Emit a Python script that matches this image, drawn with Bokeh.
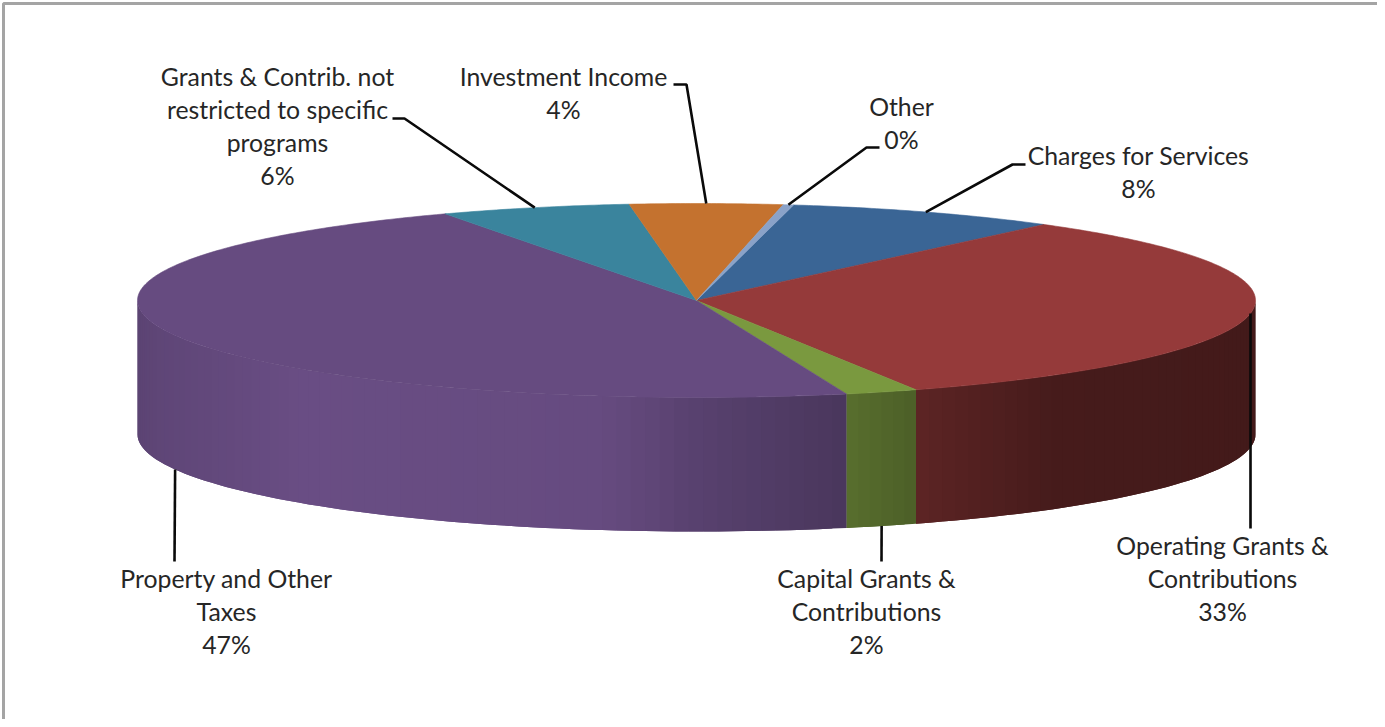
import numpy as np
from bokeh.plotting import figure
from bokeh.models import Range1d
from bokeh.core.properties import value
from bokeh.embed import file_html
from bokeh.resources import INLINE

# ---- data (clockwise from the first slice)
categories = ["Charges for Services", "Operating Grants & Contributions",
              "Capital Grants & Contributions", "Property and Other Taxes",
              "Grants & Contrib. not restricted to specific programs",
              "Investment Income", "Other"]
shares = [7.9, 32.9, 2.1, 46.9, 5.5, 4.4, 0.3]
label_lines = [["Charges for Services"],
               ["Operating Grants &", "Contributions"],
               ["Capital Grants &", "Contributions"],
               ["Property and Other", "Taxes"],
               ["Grants & Contrib. not", "restricted to specific", "programs"],
               ["Investment Income"],
               ["Other"]]
top_colors = ["#3a6595", "#953a3a", "#7a993f", "#664b80", "#3a849d", "#c4722f", "#8aa2c8"]

# ---- layout (pixels)
W, H = 1377, 719
CX, CY, RX, RY, DEPTH = 696.0, 300.0, 559.0, 97.0, 134.0
START = 10.0
FONT = "Lato"
FONT_PX = 24.8
LINE = 33.0
label_center = [1138, 1222, 866, 226, 277, 563, 901]
label_first_y = [155, 545, 578, 578, 76, 76, 106]
# where the leader leaves the rim: 0 top rim, 1 bottom rim; then its elbows
leader_depth = [0, 0, 1, 1, 0, 0, 0]
leader_elbows = [[(1012, 164), (1025, 164)], [(1250, 528)], [(881, 561)], [(174, 561)],
                 [(404, 118), (392, 118)], [(686, 84), (673, 84)], [(866, 147), (879, 147)]]
shade_x = [137, 160, 300, 600, 700, 846, 917, 1050, 1255]
shade_f = [0.90, 0.93, 1.03, 1.00, 0.86, 0.72, 0.62, 0.47, 0.45]


def hex_rgb(h):
    return np.array([int(h[i:i + 2], 16) for i in (1, 3, 5)], dtype=float)


def to_hex(c):
    return "#%02x%02x%02x" % tuple(int(round(min(255, v))) for v in c)


def rim(deg):
    t = np.radians(deg)
    return CX + RX * np.sin(t), CY - RY * np.cos(t)


p = figure(width=W, height=H, output_backend="svg", toolbar_location=None,
           x_range=Range1d(0, W), y_range=Range1d(H, 0),
           x_axis_type=None, y_axis_type=None, min_border=0,
           outline_line_color=None, background_fill_color="white",
           border_fill_color="white")
p.grid.visible = False

# page frame: left and top rules
p.multi_line(xs=[[3, 3, W]], ys=[[H, 3, 3]], line_color="#a4a4a4", line_width=3)

sweeps = np.array(shares) / sum(shares) * 360.0
edges = START + np.concatenate([[0], np.cumsum(sweeps)])

# side wall, in narrow overlapping strips so that the shade can vary round the rim
sx, sy, sc = [], [], []
for i, col in enumerate(top_colors):
    a0, a1 = max(edges[i], 90.0), min(edges[i + 1], 270.0)
    if a1 <= a0:
        continue
    cuts = np.linspace(a0, a1, max(2, int((a1 - a0) / 1.5) + 2))
    base = hex_rgb(col)
    for k, (u, v) in enumerate(zip(cuts[:-1], cuts[1:])):
        w = cuts[k + 2] if k + 2 < len(cuts) else v
        xu, yu = rim(u)
        xv, yv = rim(v)
        xw, yw = rim(w)
        sx.append([xu, xv, xw, xw, xv, xu])
        sy.append([yu, yv, yw, yw + DEPTH, yv + DEPTH, yu + DEPTH])
        sc.append(to_hex(base * np.interp((xu + xv) / 2, shade_x, shade_f)))
p.patches(sx, sy, fill_color=sc, line_color=None)

# top face
tx, ty = [], []
for i in range(len(shares)):
    ang = np.linspace(edges[i], edges[i + 1], max(3, int(sweeps[i] * 2)))
    xa, ya = rim(ang)
    tx.append([CX] + list(xa))
    ty.append([CY] + list(ya))
p.patches(tx, ty, fill_color=top_colors, line_color=top_colors, line_width=0.6)

# leaders, from the middle of each slice
lx, ly = [], []
for i in range(len(shares)):
    xm, ym = rim((edges[i] + edges[i + 1]) / 2)
    ym += leader_depth[i] * DEPTH
    pts = [(xm, ym)] + leader_elbows[i]
    lx.append([q[0] for q in pts])
    ly.append([q[1] for q in pts])
p.multi_line(lx, ly, line_color="#0a0a0a", line_width=2.6)

# labels
tx2, ty2, tt = [], [], []
for i, lines in enumerate(label_lines):
    for k, line in enumerate(lines + [f"{round(shares[i])}%"]):
        tx2.append(label_center[i])
        ty2.append(label_first_y[i] + k * LINE)
        tt.append(line)
p.text(tx2, ty2, text=tt, text_align="center", text_baseline="middle",
       text_font=value(FONT), text_font_size=f"{FONT_PX}px", text_color="#262626")

open("out.html", "w").write(file_html(p, INLINE))
